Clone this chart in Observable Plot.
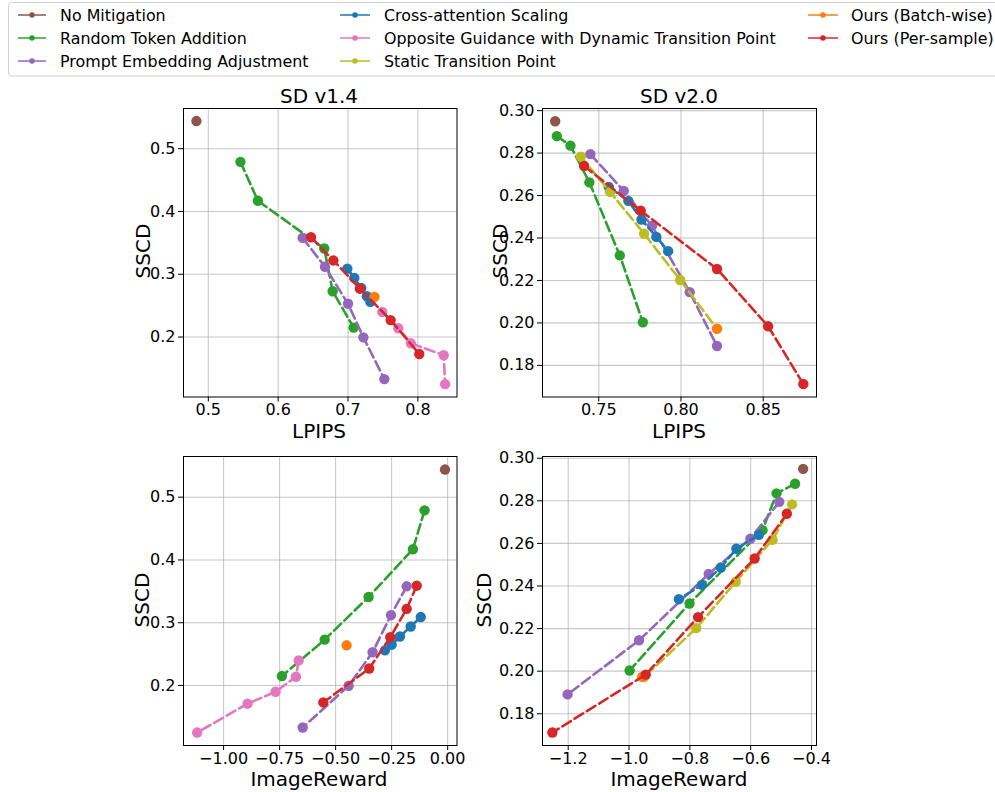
<!DOCTYPE html>
<html>
<head>
<meta charset="utf-8">
<script src="https://cdn.jsdelivr.net/npm/d3@7"></script>
<script src="https://cdn.jsdelivr.net/npm/@observablehq/plot@0.6"></script>
<style>
  html, body { margin: 0; padding: 0; background: #fff; }
  #root { position: relative; width: 995px; height: 792px; overflow: hidden; font-family: "DejaVu Sans", sans-serif; color: #000; }
  .lbl { position: absolute; transform: translate(-50%, -50%); white-space: nowrap; font-size: 20px; line-height: 1; }
  .rot { transform: translate(-50%, -50%) rotate(-90deg); }
  .panel { position: absolute; }
</style>
</head>
<body>
<div id="root"></div>
<script>
// ---------------- data ----------------
const methods = [
  "No Mitigation",
  "Random Token Addition",
  "Prompt Embedding Adjustment",
  "Cross-attention Scaling",
  "Opposite Guidance with Dynamic Transition Point",
  "Static Transition Point",
  "Ours (Batch-wise)",
  "Ours (Per-sample)"
];
const methodColors = ["#8c564b", "#2ca02c", "#9467bd", "#1f77b4", "#e377c2", "#bcbd22", "#ff7f0e", "#d62728"];

// SD v1.4 (index follows `methods`)
const v14_lpips = [
  [0.483],
  [0.546, 0.571, 0.666, 0.678, 0.708],
  [0.635, 0.667, 0.700, 0.722, 0.752],
  [0.699, 0.709, 0.719, 0.727, 0.732],
  [0.749, 0.772, 0.790, 0.837, 0.839],
  [],
  [0.738],
  [0.647, 0.679, 0.717, 0.761, 0.802]
];
const v14_sscd = [
  [0.544],
  [0.479, 0.417, 0.341, 0.273, 0.215],
  [0.358, 0.312, 0.253, 0.1995, 0.133],
  [0.309, 0.294, 0.278, 0.265, 0.256],
  [0.240, 0.214, 0.190, 0.171, 0.125],
  [],
  [0.264],
  [0.359, 0.322, 0.277, 0.227, 0.173]
];
const v14_ir = [
  [-0.012],
  [-0.103, -0.155, -0.353, -0.549, -0.740],
  [-0.183, -0.253, -0.335, -0.442, -0.647],
  [-0.120, -0.165, -0.213, -0.250, -0.280],
  [-0.665, -0.677, -0.768, -0.893, -1.118],
  [],
  [-0.451],
  [-0.138, -0.183, -0.256, -0.350, -0.555]
];

// SD v2.0
const v20_lpips = [
  [0.7235],
  [0.7245, 0.7328, 0.7443, 0.7628, 0.7768],
  [0.7449, 0.7652, 0.7824, 0.8053, 0.8219],
  [0.7561, 0.7680, 0.7760, 0.7850, 0.7922],
  [],
  [0.7391, 0.7569, 0.7776, 0.7995, 0.8219],
  [0.8219],
  [0.7411, 0.7755, 0.8219, 0.8530, 0.8744]
];
const v20_sscd = [
  [0.2950],
  [0.2880, 0.2835, 0.2662, 0.2318, 0.2003],
  [0.2795, 0.2622, 0.2457, 0.2145, 0.1891],
  [0.2640, 0.2575, 0.2487, 0.2405, 0.2338],
  [],
  [0.2783, 0.2617, 0.2420, 0.2202, 0.1972],
  [0.1973],
  [0.2739, 0.2529, 0.2254, 0.1984, 0.1712]
];
const v20_ir = [
  [-0.4275],
  [-0.454, -0.515, -0.561, -0.801, -0.998],
  [-0.506, -0.601, -0.738, -0.967, -1.202],
  [-0.573, -0.647, -0.698, -0.760, -0.836],
  [],
  [-0.464, -0.528, -0.649, -0.779, -0.951],
  [-0.957],
  [-0.481, -0.587, -0.773, -0.945, -1.252]
];

// tick values
const ticksLpips14 = [0.5, 0.6, 0.7, 0.8];
const ticksLpips20 = [0.75, 0.80, 0.85];
const ticksIr14 = [-1.00, -0.75, -0.50, -0.25, 0.00];
const ticksIr20 = [-1.2, -1.0, -0.8, -0.6, -0.4];
const ticksSscd14 = [0.2, 0.3, 0.4, 0.5];
const ticksSscd20 = [0.18, 0.20, 0.22, 0.24, 0.26, 0.28, 0.30];

// ---------------- drawing ----------------
const root = document.getElementById("root");
const M = {l: 60, r: 20, t: 10, b: 35};

function panel(cfg) {
  const fw = cfg.R - cfg.L, fh = cfg.B - cfg.T;
  const marks = [
    Plot.gridX(cfg.xticks, {stroke: "#b0b0b0", strokeOpacity: 0.7, strokeWidth: 1.1}),
    Plot.gridY(cfg.yticks, {stroke: "#b0b0b0", strokeOpacity: 0.7, strokeWidth: 1.1}),
  ];
  methods.forEach((m, i) => {
    const xs = cfg.xs[i], ys = cfg.ys[i];
    if (!xs.length) return;
    const pts = xs.map((v, j) => ({x: v, y: ys[j]}));
    if (pts.length > 1) {
      marks.push(Plot.line(pts, {x: "x", y: "y", stroke: methodColors[i], strokeWidth: 2.6, strokeDasharray: "10,4.4"}));
    }
    marks.push(Plot.dot(pts, {x: "x", y: "y", fill: methodColors[i], r: 5.2}));
  });
  marks.push(Plot.axisX(cfg.xticks, {tickFormat: d3.format(cfg.xfmt), tickSize: 5, tickPadding: 2, fontSize: 16, label: null}));
  marks.push(Plot.axisY(cfg.yticks, {tickFormat: d3.format(cfg.yfmt), tickSize: 5, tickPadding: 3, fontSize: 16, label: null}));
  marks.push(Plot.frame({stroke: "#000", strokeWidth: 1}));
  const p = Plot.plot({
    width: fw + M.l + M.r,
    height: fh + M.t + M.b,
    marginLeft: M.l, marginRight: M.r, marginTop: M.t, marginBottom: M.b,
    x: {domain: cfg.xdom, inset: 0},
    y: {domain: cfg.ydom, inset: 0},
    style: {fontFamily: "DejaVu Sans", fontSize: "16px", color: "#000", background: "transparent", overflow: "visible"},
    marks
  });
  p.classList.add("panel");
  p.style.left = (cfg.L - M.l) + "px";
  p.style.top = (cfg.T - M.t) + "px";
  root.appendChild(p);
}

panel({L: 182.5, R: 456, T: 107.5, B: 396, xdom: [0.4645, 0.856], ydom: [0.1045, 0.564],
  xs: v14_lpips, ys: v14_sscd, xticks: ticksLpips14, yticks: ticksSscd14, xfmt: ".1f", yfmt: ".1f"});
panel({L: 542, R: 816, T: 107.5, B: 396, xdom: [0.7158, 0.8824], ydom: [0.1651, 0.301],
  xs: v20_lpips, ys: v20_sscd, xticks: ticksLpips20, yticks: ticksSscd20, xfmt: ".2f", yfmt: ".2f"});
panel({L: 182.5, R: 456, T: 456, B: 745, xdom: [-1.179, 0.0417], ydom: [0.1044, 0.5648],
  xs: v14_ir, ys: v14_sscd, xticks: ticksIr14, yticks: ticksSscd14, xfmt: ".2f", yfmt: ".1f"});
panel({L: 542, R: 816, T: 456, B: 745, xdom: [-1.2845, -0.3836], ydom: [0.1651, 0.3008],
  xs: v20_ir, ys: v20_sscd, xticks: ticksIr20, yticks: ticksSscd20, xfmt: ".1f", yfmt: ".2f"});

// labels (text)
function label(text, x, y, rot) {
  const d = document.createElement("div");
  d.className = "lbl" + (rot ? " rot" : "");
  d.textContent = text;
  d.style.left = x + "px";
  d.style.top = y + "px";
  root.appendChild(d);
}
label("SD v1.4", 319, 96);
label("SD v2.0", 679, 96);
label("LPIPS", 319, 431);
label("LPIPS", 679, 431);
label("ImageReward", 319, 779);
label("ImageReward", 679, 779);
label("SSCD", 143, 251, true);
label("SSCD", 500, 251, true);
label("SSCD", 142, 600, true);
label("SSCD", 484, 600, true);

// legend
const leg = d3.select(root).append("svg")
  .attr("width", 995).attr("height", 80)
  .style("position", "absolute").style("left", "0px").style("top", "0px")
  .style("font-family", "DejaVu Sans").style("font-size", "15.9px");
leg.append("rect").attr("x", 8.5).attr("y", 2.5).attr("width", 1000).attr("height", 73.5)
  .attr("rx", 3).attr("fill", "#fff").attr("stroke", "#d0d0d0").attr("stroke-width", 1);
const colX = [[18, 46, 60], [340, 370, 384], [808, 838, 851]];
const rowY = [15, 38, 61];
const order = [[0, 0], [1, 0], [2, 0], [0, 1], [1, 1], [2, 1], [0, 2], [1, 2]];
methods.forEach((m, i) => {
  const [r, c] = order[i];
  const [x0, x1, tx] = colX[c];
  const y = rowY[r];
  const g = leg.append("g");
  g.append("line").attr("x1", x0).attr("x2", x1).attr("y1", y).attr("y2", y)
    .attr("stroke", methodColors[i]).attr("stroke-width", 1.5);
  g.append("circle").attr("cx", (x0 + x1) / 2).attr("cy", y).attr("r", 2.8).attr("fill", methodColors[i]);
  g.append("text").attr("x", tx).attr("y", y).attr("dy", "0.35em").attr("fill", "#000").text(m);
});
</script>
</body>
</html>
